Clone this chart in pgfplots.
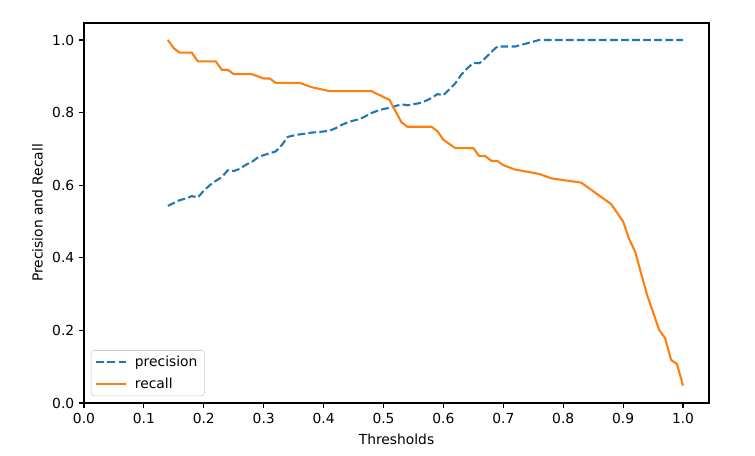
\documentclass[border=0pt]{standalone}
\usepackage{pgfplots}
\pgfplotsset{compat=1.18}
\usepackage{fontspec}
\setmainfont{DejaVu Sans}
\definecolor{mblue}{HTML}{1F77B4}
\definecolor{morange}{HTML}{FF7F0E}
\begin{document}
\begin{tikzpicture}
\begin{axis}[
  name=ax,
  scale only axis,
  width=450bp, height=273.6bp,
  xmin=0, xmax=1.0434,
  ymin=0, ymax=1.0468,
  xtick={0,0.1,...,1.0},
  ytick={0,0.2,...,1.0},
  xticklabel style={/pgf/number format/.cd,fixed,fixed zerofill,precision=1},
  yticklabel style={/pgf/number format/.cd,fixed,fixed zerofill,precision=1},
  /pgf/number format/assume math mode=true,
  tick align=outside,
  tick pos=left,
  major tick length=3.5bp,
  every tick/.style={black, line width=0.8bp},
  axis line style={black, line width=0.8bp},
  xlabel={Thresholds},
  ylabel={Precision and Recall},
  every axis x label/.style={at={(rel axis cs:0.5,0)}, anchor=north, yshift=-18.5bp},
  tick label style={font=\normalsize},
  label style={font=\normalsize},
  legend style={at={(0,0)}, anchor=south west, xshift=5bp, yshift=5bp,
    draw=black!20, rounded corners=2bp, font=\normalsize,
    inner xsep=3bp, inner ysep=2bp, row sep=2.5bp},
  legend cell align=left,
  legend image code/.code={\draw[#1] (0bp,0bp) -- (21.6bp,0bp); \path (25bp,0bp);},
]
\addplot[mblue, line width=1.5bp, dash pattern=on 5.55bp off 2.4bp] coordinates {
(0.14,0.543) (0.15,0.551) (0.16,0.559) (0.17,0.563) (0.18,0.570) (0.19,0.566)
(0.20,0.585) (0.21,0.600) (0.22,0.612) (0.23,0.622) (0.24,0.641) (0.25,0.639)
(0.26,0.645) (0.27,0.656) (0.28,0.664) (0.29,0.676) (0.30,0.683) (0.31,0.688)
(0.32,0.693) (0.33,0.710) (0.34,0.733) (0.35,0.737) (0.36,0.740) (0.37,0.742)
(0.38,0.745) (0.39,0.746) (0.40,0.748) (0.41,0.750) (0.42,0.757) (0.43,0.766)
(0.44,0.773) (0.45,0.778) (0.46,0.782) (0.47,0.790) (0.48,0.799) (0.49,0.805)
(0.50,0.810) (0.51,0.813) (0.52,0.818) (0.53,0.823) (0.54,0.820) (0.55,0.823)
(0.56,0.826) (0.57,0.832) (0.58,0.840) (0.59,0.851) (0.60,0.848) (0.61,0.864)
(0.62,0.881) (0.63,0.905) (0.64,0.922) (0.65,0.937) (0.66,0.936) (0.67,0.950)
(0.68,0.967) (0.69,0.982) (0.70,0.982) (0.72,0.982) (0.74,0.991) (0.76,1.0)
(0.80,1.0) (0.90,1.0) (1.0,1.0)
};
\addlegendentry{precision}
\addplot[morange, line width=1.5bp] coordinates {
(0.14,1.0) (0.15,0.977) (0.16,0.965) (0.18,0.965) (0.19,0.941) (0.22,0.941)
(0.23,0.918) (0.24,0.918) (0.25,0.906) (0.28,0.906) (0.30,0.894) (0.31,0.894)
(0.32,0.882) (0.36,0.882) (0.38,0.870) (0.41,0.859) (0.48,0.859) (0.51,0.835)
(0.53,0.773) (0.54,0.761) (0.58,0.761) (0.59,0.749) (0.60,0.725) (0.62,0.702)
(0.65,0.702) (0.66,0.680) (0.67,0.680) (0.68,0.667) (0.69,0.667) (0.70,0.655)
(0.72,0.643) (0.76,0.631) (0.78,0.619) (0.83,0.607) (0.88,0.548) (0.90,0.500)
(0.91,0.452) (0.92,0.417) (0.94,0.298) (0.96,0.202) (0.97,0.179) (0.98,0.119)
(0.99,0.107) (1.00,0.048)
};
\addlegendentry{recall}
\end{axis}
\pgfresetboundingbox
\path ([shift={(-60.48bp,-38.16bp)}]ax.south west) rectangle ([shift={(33.12bp,16.56bp)}]ax.north east);
\end{tikzpicture}
\end{document}
